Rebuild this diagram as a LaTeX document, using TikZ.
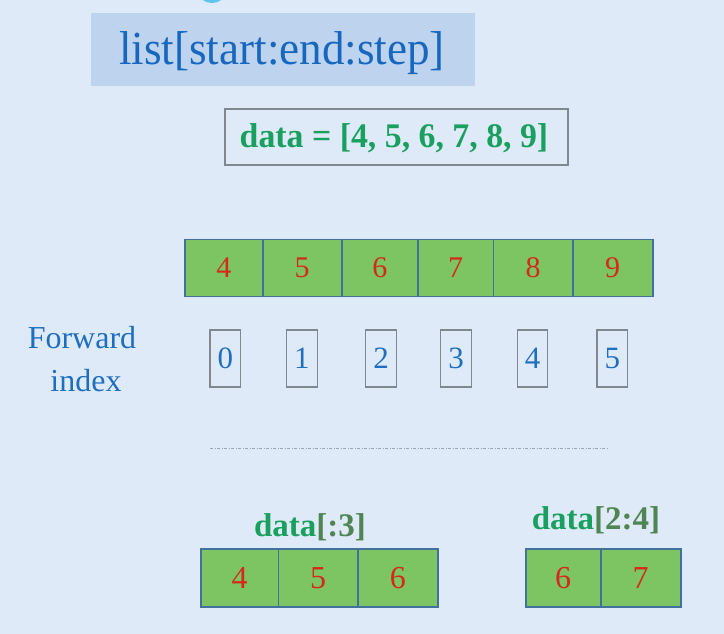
\documentclass[tikz,border=0pt]{standalone}
\usepackage{fontspec}
\setmainfont{Liberation Serif}
\definecolor{bgc}{HTML}{DEEAF8}
\definecolor{titlefill}{HTML}{BDD3EE}
\definecolor{titleblue}{HTML}{1767BF}
\definecolor{dgreen}{HTML}{1AA05E}
\definecolor{olivegreen}{HTML}{4E8552}
\definecolor{cellfill}{HTML}{7DC462}
\definecolor{cellborder}{HTML}{41719C}
\definecolor{numred}{HTML}{D42A1E}
\definecolor{idxblue}{HTML}{1F6FC0}
\definecolor{boxgray}{HTML}{7F8790}
\definecolor{dotgray}{HTML}{9AA6B6}
\definecolor{blobcyan}{HTML}{5CC6EE}
\tikzset{
  cell/.style={draw=cellborder, fill=cellfill, line width=1.6pt, inner sep=0pt,
    minimum height=57pt, text=numred, font=\fontsize{30}{30}\selectfont},
  bcell/.style={cell, minimum height=58pt, font=\fontsize{32}{32}\selectfont},
  idx/.style={draw=boxgray, line width=1.3pt, inner sep=0pt, minimum width=30.5pt,
    minimum height=57pt, text=idxblue, font=\fontsize{31}{31}\selectfont},
  lbl/.style={anchor=base, inner sep=0pt, text=dgreen, font=\fontsize{33}{33}\selectfont\bfseries},
}
\begin{document}
\begin{tikzpicture}[x=1pt,y=-1pt]
\useasboundingbox (0,0) rectangle (724,634);
\fill[bgc] (0,0) rectangle (724,634);
\begin{scope}
\clip (0,0) rectangle (724,634);
\fill[blobcyan] (212,-7) ellipse [x radius=13, y radius=10];
\end{scope}
% title
\node[fill=titlefill, inner sep=0pt, minimum width=384pt, minimum height=72.4pt] (titlebox) at (283,49.5) {};
\node[anchor=base, inner sep=0pt, text=titleblue, font=\fontsize{47.5}{47.5}\selectfont] (title) at (282,65) {\scalebox{0.95}[1]{list[start:end:step]}};
% data box
\node[draw=boxgray, line width=1.3pt, inner sep=0pt, minimum width=343pt, minimum height=56pt] (databox) at (396.5,137) {};
\node[anchor=base, inner sep=0pt, text=dgreen, font=\fontsize{34.5}{34.5}\selectfont\bfseries] (datatext) at (394,147) {\scalebox{0.98}[1]{data = [4, 5, 6, 7, 8, 9]}};
% top row
\node[cell, minimum width=77.7pt] (c0) at (223.9,268) {4};
\node[cell, minimum width=79pt] (c1) at (302.2,268) {5};
\node[cell, minimum width=76.3pt] (c2) at (379.85,268) {6};
\node[cell, minimum width=75.3pt] (c3) at (455.65,268) {7};
\node[cell, minimum width=79.4pt] (c4) at (533,268) {8};
\node[cell, minimum width=80pt] (c5) at (612.7,268) {9};
% forward index
\node[anchor=base, inner sep=0pt, text=idxblue, font=\fontsize{32}{32}\selectfont] (fwd) at (82,348) {Forward};
\node[anchor=base, inner sep=0pt, text=idxblue, font=\fontsize{32}{32}\selectfont] (fidx) at (86,391.5) {index};
\node[idx] (i0) at (225.3,358.5) {0};
\node[idx] (i1) at (301.9,358.5) {1};
\node[idx] (i2) at (381,358.5) {2};
\node[idx] (i3) at (456,358.5) {3};
\node[idx] (i4) at (532.5,358.5) {4};
\node[idx] (i5) at (612.3,358.5) {5};
% separator
\coordinate (sepL) at (210,448);
\coordinate (sepR) at (608,448);
\draw[dotgray, line width=1pt, dash pattern=on 3pt off 1.5pt on 1pt off 1.5pt] (sepL) -- (sepR);
% data[:3]
\node[lbl] (l1) at (310,536) {data\textcolor{olivegreen}{[:3]}};
\node[bcell, minimum width=77.3pt] (a0) at (239.65,578) {4};
\node[bcell, minimum width=79.4pt] (a1) at (318,578) {5};
\node[bcell, minimum width=80.3pt] (a2) at (397.85,578) {6};
% data[2:4]
\node[lbl] (l2) at (596,529) {data\textcolor{olivegreen}{[2:4]}};
\node[bcell, minimum width=75pt] (b0) at (563.2,578) {6};
\node[bcell, minimum width=80pt] (b1) at (640.7,578) {7};
\end{tikzpicture}
\end{document}
